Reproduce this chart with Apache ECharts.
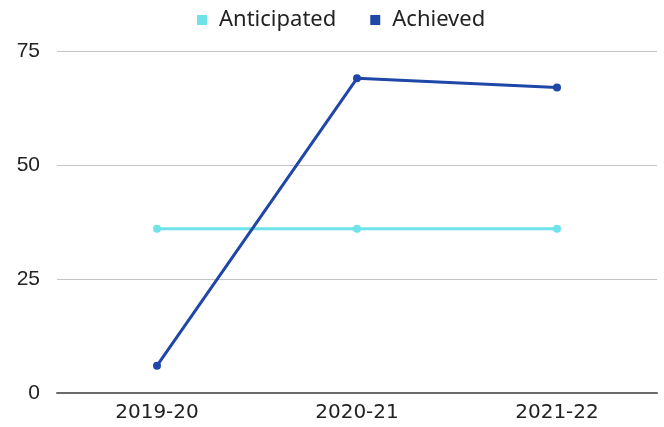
<!DOCTYPE html>
<html>
<head>
<meta charset="utf-8">
<script src="https://cdn.jsdelivr.net/npm/echarts@6/dist/echarts.min.js"></script>
<style>
  html, body { margin: 0; padding: 0; background: #fff; }
  #chart { width: 664px; height: 427px; }
</style>
</head>
<body>
<div id="chart"></div>
<script>
// Financial years on the x axis
const years = ['2019-20', '2020-21', '2021-22'];
// Anticipated and achieved values per year
const anticipated = [36, 36, 36];
const achieved = [6, 69, 67];
// Y axis range and step
const yMin = 0;
const yMax = 75;
const yStep = 25;

const chart = echarts.init(document.getElementById('chart'), null, { renderer: 'canvas' });

const lineSeries = (name, data, color) => ({
  name,
  type: 'line',
  data,
  symbol: 'circle',
  symbolSize: 8,
  showSymbol: true,
  lineStyle: { color, width: 3 },
  itemStyle: { color },
  animation: false
});

chart.setOption({
  animation: false,
  legend: {
    top: 4,
    left: 192,
    itemWidth: 10,
    itemHeight: 10,
    itemGap: 34,
    icon: 'rect',
    textStyle: { fontFamily: 'Noto Sans', fontSize: 22, color: '#222', padding: [0, 0, 0, 7] },
    data: [
      { name: 'Anticipated', itemStyle: { color: '#6fe3e9' } },
      { name: 'Achieved', itemStyle: { color: '#1f47a8' } }
    ]
  },
  grid: { left: 57, right: 7, top: 51, bottom: 34, containLabel: false },
  xAxis: {
    type: 'category',
    data: years,
    boundaryGap: true,
    axisLine: { show: true, lineStyle: { color: '#6b6b6b', width: 2 } },
    axisTick: { show: false },
    axisLabel: { fontFamily: 'DejaVu Sans', fontSize: 20, color: '#222', margin: 10 }
  },
  yAxis: {
    type: 'value',
    min: yMin,
    max: yMax,
    interval: yStep,
    axisLine: { show: false },
    axisTick: { show: false },
    splitLine: { lineStyle: { color: '#c4c4c4', width: 1 } },
    axisLabel: { fontFamily: 'Liberation Sans', fontSize: 21, color: '#222', margin: 17 }
  },
  series: [
    lineSeries('Anticipated', anticipated, '#6fe3e9'),
    lineSeries('Achieved', achieved, '#1f47a8')
  ]
});
</script>
</body>
</html>
